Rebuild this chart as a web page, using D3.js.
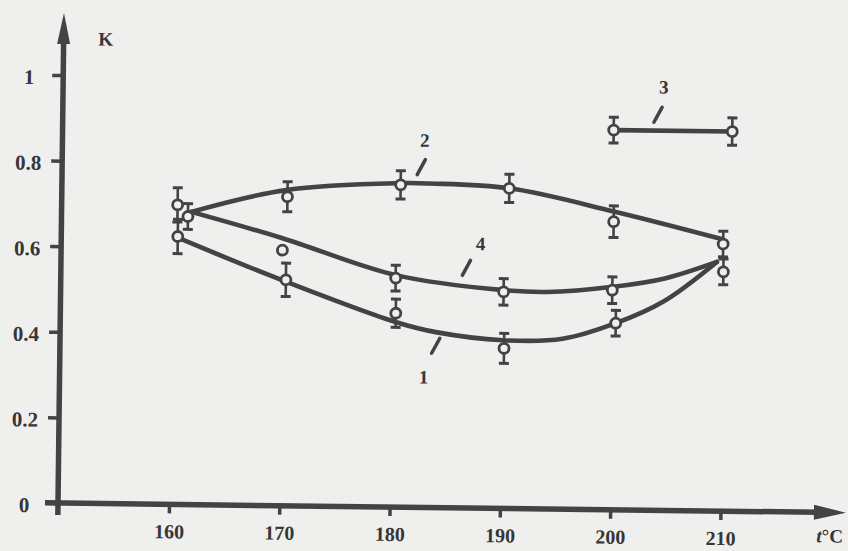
<!DOCTYPE html>
<html>
<head>
<meta charset="utf-8">
<title>K vs t°C</title>
<script src="https://d3js.org/d3.v7.min.js"></script>
<style>
  body { margin: 0; background: #efefed; }
  svg { display: block; }
  text { font-family: "Liberation Serif", serif; font-weight: bold; fill: #363636; }
</style>
</head>
<body>
<svg id="chart" width="848" height="551"></svg>
<script>
// measured points: [t, K, error half-height]
var points1 = [[160.5, 0.626, 0.04], [170.35, 0.528, 0.039], [180.35, 0.453, 0.033], [190.2, 0.374, 0.035], [200.3, 0.436, 0.03]];
var points2 = [[160.45, 0.70, 0.04], [170.4, 0.722, 0.035], [180.65, 0.753, 0.033], [190.5, 0.748, 0.033], [200, 0.673, 0.037], [209.95, 0.624, 0.03]];
var points3 = [[199.9, 0.887, 0.03], [210.65, 0.887, 0.032]];
var points4 = [[161.4, 0.673, 0.03], [170, 0.597, 0], [180.3, 0.535, 0.03], [190.1, 0.506, 0.031], [199.95, 0.513, 0.031], [210, 0.559, 0.03]];

// smooth fitted curves: [t, K]
var fit1 = [[160.6, 0.622], [170.3, 0.524], [180.4, 0.432], [184, 0.410], [190.1, 0.393], [195.5, 0.398], [200.3, 0.436], [204.6, 0.488], [209.4, 0.582]];
var fit2 = [[161.7, 0.684], [170.3, 0.738], [180.6, 0.757], [183.3, 0.757], [190.5, 0.748], [200, 0.697], [209.9, 0.635]];
var fit3 = [[199.9, 0.887], [210.65, 0.887]];
var fit4 = [[161.7, 0.684], [170, 0.625], [180.3, 0.542], [190.1, 0.510], [194, 0.507], [200, 0.521], [204.7, 0.542], [209.4, 0.582]];

// curve numbers and their leader marks: name, label t/K, mark t/K
var labelNames = ["1", "2", "3", "4"];
var labelPos = [[182.95, 0.306], [182.8, 0.859], [204.4, 0.990], [187.95, 0.619]];
var markPos = [[184.0, 0.378], [182.5, 0.795], [203.9, 0.924], [186.7, 0.561]];

var xTicks = [160, 170, 180, 190, 200, 210];
var yTicks = [0, 0.2, 0.4, 0.6, 0.8, 1];
var yTickLabels = ["0", "0.2", "0.4", "0.6", "0.8", "1"];

var ink = "#434343";
var paper = "#efefed";

var svg = d3.select("#chart");
svg.append("rect").attr("width", 848).attr("height", 551).attr("fill", paper);

// the scan is turned a little, so turn the whole drawing about the origin
var ox = 58, oy = 503;
var g = svg.append("g").attr("transform", "rotate(0.7," + ox + "," + oy + ")");

var x = d3.scaleLinear().domain([160, 210]).range([169, 720.5]);
var y = d3.scaleLinear().domain([0, 1]).range([oy, 75]);

// axes
var axisW = 5.5;
g.append("line").attr("x1", ox).attr("x2", ox).attr("y1", oy + 12).attr("y2", 40)
  .attr("stroke", ink).attr("stroke-width", axisW);
g.append("path").attr("d", "M" + (ox - 6.5) + ",44 L" + ox + ",13 L" + (ox + 6.5) + ",44 Z").attr("fill", ink);

g.append("line").attr("x1", 45).attr("x2", 818).attr("y1", oy).attr("y2", oy)
  .attr("stroke", ink).attr("stroke-width", axisW);
g.append("path").attr("d", "M814," + (oy - 7.5) + " L846," + oy + " L814," + (oy + 7.5) + " Z").attr("fill", ink);

var yAxis = g.append("g").attr("transform", "translate(" + ox + ",0)")
  .call(d3.axisLeft(y).tickValues(yTicks).tickSize(11).tickFormat(function (d, i) { return yTickLabels[i]; }));
yAxis.select(".domain").remove();
yAxis.selectAll(".tick line").attr("stroke", ink).attr("stroke-width", 3.5);
yAxis.selectAll(".tick text").attr("x", -34).attr("dy", 0).attr("y", 9)
  .attr("text-anchor", "middle").style("font-size", "21px").style("font-family", "Liberation Serif").style("font-weight", "bold").attr("fill", "#363636");

var xAxis = g.append("g").attr("transform", "translate(0," + oy + ")")
  .call(d3.axisBottom(x).tickValues(xTicks).tickSize(9).tickFormat(d3.format("d")));
xAxis.select(".domain").remove();
xAxis.selectAll(".tick line").attr("stroke", ink).attr("stroke-width", 3.5);
xAxis.selectAll(".tick text").attr("dy", 0).attr("y", 34)
  .style("font-size", "20px").style("font-family", "Liberation Serif").style("font-weight", "bold").attr("fill", "#363636");

// axis titles
g.append("text").attr("x", 100).attr("y", 45).attr("text-anchor", "middle").style("font-size", "19px").text("K");
var tt = g.append("text").attr("x", 830).attr("y", 533).attr("text-anchor", "middle").style("font-size", "19px");
tt.append("tspan").style("font-style", "italic").text("t");
tt.append("tspan").text("°C");

// fitted curves
var line = d3.line().x(function (d) { return x(d[0]); }).y(function (d) { return y(d[1]); })
  .curve(d3.curveCatmullRom.alpha(0.5));
[fit1, fit2, fit3, fit4].forEach(function (f) {
  g.append("path").attr("d", line(f)).attr("fill", "none")
    .attr("stroke", ink).attr("stroke-width", 4.6).attr("stroke-linecap", "round");
});

// error bars and markers
var allPoints = points1.concat(points2, points3, points4);
var bars = g.append("g");
allPoints.filter(function (d) { return d[2] > 0; }).forEach(function (d) {
  var cx = x(d[0]), top = y(d[1] + d[2]), bot = y(d[1] - d[2]);
  bars.append("line").attr("x1", cx).attr("x2", cx).attr("y1", top).attr("y2", bot)
    .attr("stroke", ink).attr("stroke-width", 2.6);
  [top, bot].forEach(function (yy) {
    bars.append("line").attr("x1", cx - 5).attr("x2", cx + 5).attr("y1", yy).attr("y2", yy)
      .attr("stroke", ink).attr("stroke-width", 3);
  });
});
g.append("g").selectAll("circle").data(allPoints).enter().append("circle")
  .attr("cx", function (d) { return x(d[0]); })
  .attr("cy", function (d) { return y(d[1]); })
  .attr("r", 5)
  .attr("fill", paper).attr("stroke", ink).attr("stroke-width", 2.8);

// curve numbers with their little leader strokes
labelNames.forEach(function (name, i) {
  g.append("text").attr("x", x(labelPos[i][0])).attr("y", y(labelPos[i][1]) + 7)
    .attr("text-anchor", "middle").style("font-size", "19px").text(name);
  var mx = x(markPos[i][0]), my = y(markPos[i][1]);
  g.append("line").attr("x1", mx + 4).attr("y1", my - 7.5).attr("x2", mx - 4).attr("y2", my + 7.5)
    .attr("stroke", ink).attr("stroke-width", 3.5).attr("stroke-linecap", "round");
});
</script>
</body>
</html>
